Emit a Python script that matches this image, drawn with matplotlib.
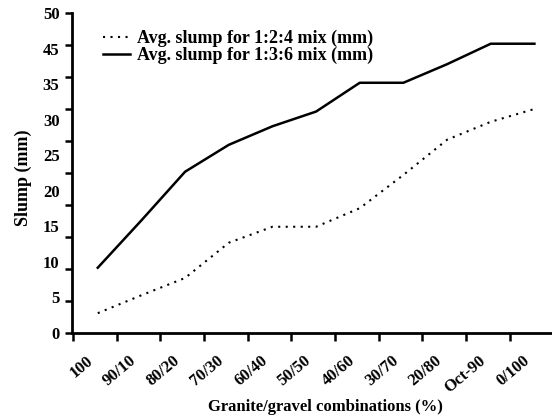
import matplotlib.pyplot as plt
import matplotlib.transforms as mtransforms
import numpy as np

combos = ['100', '90/10', '80/20', '70/30', '60/40', '50/50',
          '40/60', '30/70', '20/80', 'Oct-90', '0/100']
slump_124 = [3.1, 5.9, 8.6, 14.1, 16.6, 16.6, 19.5, 24.7, 30.2, 33.0, 35.0]
slump_136 = [10.2, 17.6, 25.2, 29.4, 32.3, 34.6, 39.1, 39.1, 42.0, 45.2, 45.2]
ytick_text = ['0', '5', '10', '15', '20', '25', '30', '35', '45', '50']

plt.rcParams['font.family'] = ['Liberation Serif', 'DejaVu Serif']
plt.rcParams['font.weight'] = 'bold'

fig = plt.figure(figsize=(5.52, 4.18), dpi=100)
ax = fig.add_axes([72 / 552, 1 - 333 / 418, 479 / 552, 320 / 418])

x = np.arange(len(combos)) + 0.57
ax.plot(x, slump_124, color='black', lw=1.5, ls=(0, (1, 2.6)),
        label='Avg. slump for 1:2:4 mix (mm)')
ax.plot(x, slump_136, color='black', lw=1.8,
        label='Avg. slump for 1:3:6 mix (mm)')

ax.set_xlim(-0.02, 10.95)
ax.set_ylim(0, 50)

for side in ['top', 'right']:
    ax.spines[side].set_visible(False)
for side in ['left', 'bottom']:
    ax.spines[side].set_linewidth(2)

# x ticks
ax.set_xticks(np.arange(len(combos)))
ax.set_xticklabels(combos, rotation=40, ha='right', va='top', fontsize=12)
ax.tick_params(axis='x', length=6, width=1.8, pad=8)
shift = mtransforms.ScaledTranslation(23 / 100, 0, fig.dpi_scale_trans)
for lab in ax.get_xticklabels():
    lab.set_transform(lab.get_transform() + shift)

# y ticks: marks every 5, labels spread evenly (as in the original)
ax.yaxis.remove_overlapping_locs = False
ax.set_yticks(np.arange(0, 51, 5))
ax.set_yticklabels([])
ax.tick_params(axis='y', which='major', length=5, width=1.8)
ax.set_yticks(np.linspace(0, 50, len(ytick_text)), minor=True)
ax.set_yticklabels(ytick_text, minor=True, fontsize=12)
ax.tick_params(axis='y', which='minor', length=0, pad=9)

ax.set_xlabel('Granite/gravel combinations (%)', fontsize=12, fontweight='bold')
ax.xaxis.set_label_coords(0.53, -0.205)
ax.set_ylabel('Slump (mm)', fontsize=13, fontweight='bold')
ax.yaxis.set_label_coords(-0.083, 0.484)

leg = ax.legend(loc='upper left', bbox_to_anchor=(0.05, 0.97), frameon=False,
                fontsize=13, handlelength=1.5, handletextpad=0.4,
                labelspacing=0.0, borderaxespad=0)
for t in leg.get_texts():
    t.set_fontweight('bold')

fig.savefig('out.png', dpi=100)
